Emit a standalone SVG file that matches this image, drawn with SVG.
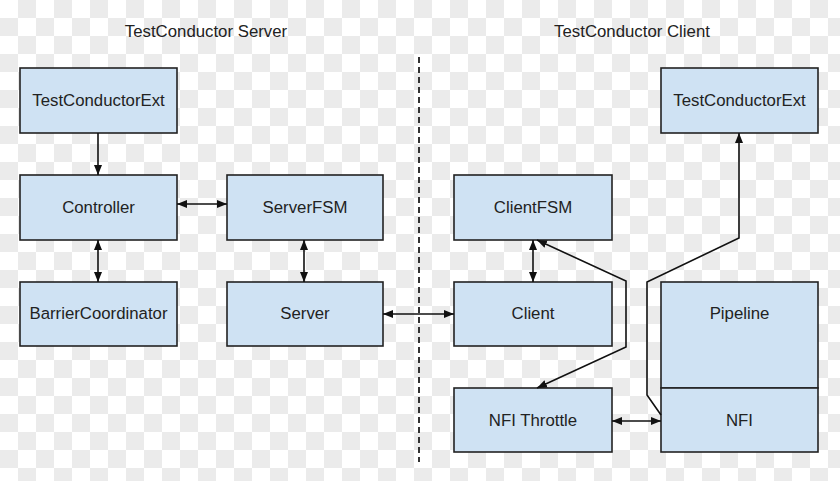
<svg xmlns="http://www.w3.org/2000/svg" width="840" height="481" viewBox="0 0 840 481">
<defs>
<pattern id="checker" x="0" y="0" width="36" height="36" patternUnits="userSpaceOnUse">
<rect width="36" height="36" fill="#ffffff"/>
<rect x="18" y="0" width="18" height="18" fill="#ebebeb"/>
<rect x="0" y="18" width="18" height="18" fill="#ebebeb"/>
</pattern>
<marker id="ah" viewBox="0 0 10 10" refX="10" refY="5" markerWidth="10" markerHeight="10" markerUnits="userSpaceOnUse" orient="auto-start-reverse">
<path d="M0,1 L10,5 L0,9 Z" fill="#111"/>
</marker>
<style>
.box{fill:#cfe2f3;stroke:#222;stroke-width:1.6}
.lbl{font-family:"Liberation Sans",Arial,sans-serif;font-size:16.8px;fill:#222;text-anchor:middle}
.title{font-family:"Liberation Sans",Arial,sans-serif;font-size:16.8px;fill:#222;text-anchor:middle}
.ln{fill:none;stroke:#111;stroke-width:1.6}
</style>
</defs>
<rect width="840" height="481" fill="url(#checker)"/>
<text class="title" x="206" y="37">TestConductor Server</text>
<text class="title" x="632" y="37">TestConductor Client</text>
<line x1="419" y1="57" x2="419" y2="462" stroke="#333" stroke-width="2" stroke-dasharray="6,4"/>

<g id="server-ext"><rect class="box" x="20" y="68" width="157" height="65"/><text class="lbl" x="98.5" y="106">TestConductorExt</text></g>
<g id="controller"><rect class="box" x="20" y="175" width="157" height="65"/><text class="lbl" x="98.5" y="213">Controller</text></g>
<g id="serverfsm"><rect class="box" x="227" y="175" width="156" height="65"/><text class="lbl" x="305" y="213">ServerFSM</text></g>
<g id="barrier"><rect class="box" x="20" y="282" width="157" height="64"/><text class="lbl" x="98.5" y="319">BarrierCoordinator</text></g>
<g id="server"><rect class="box" x="227" y="282" width="156" height="64"/><text class="lbl" x="305" y="319">Server</text></g>

<g id="client-ext"><rect class="box" x="661" y="68" width="157" height="65"/><text class="lbl" x="739.5" y="106">TestConductorExt</text></g>
<g id="clientfsm"><rect class="box" x="454" y="175" width="158" height="65"/><text class="lbl" x="533" y="213">ClientFSM</text></g>
<g id="client"><rect class="box" x="454" y="282" width="158" height="64"/><text class="lbl" x="533" y="319">Client</text></g>
<g id="nfithrottle"><rect class="box" x="454" y="388" width="158" height="64"/><text class="lbl" x="533" y="426">NFI Throttle</text></g>
<g id="pipeline"><rect class="box" x="661" y="282" width="157" height="106"/><text class="lbl" x="739.5" y="319">Pipeline</text></g>
<g id="nfi"><rect class="box" x="661" y="388" width="157" height="64"/><text class="lbl" x="739.5" y="426">NFI</text></g>

<g id="connectors">
<line class="ln" x1="98" y1="133" x2="98" y2="175" marker-end="url(#ah)"/>
<line class="ln" x1="177" y1="204" x2="227" y2="204" marker-start="url(#ah)" marker-end="url(#ah)"/>
<line class="ln" x1="98" y1="240" x2="98" y2="282" marker-start="url(#ah)" marker-end="url(#ah)"/>
<line class="ln" x1="304" y1="240" x2="304" y2="282" marker-start="url(#ah)" marker-end="url(#ah)"/>
<line class="ln" x1="383" y1="314" x2="454" y2="314" marker-start="url(#ah)" marker-end="url(#ah)"/>
<line class="ln" x1="533" y1="240" x2="533" y2="282" marker-start="url(#ah)" marker-end="url(#ah)"/>
<line class="ln" x1="612" y1="421" x2="661" y2="421" marker-start="url(#ah)" marker-end="url(#ah)"/>
<polyline class="ln" points="537,240 626,281 626,347 537,388" marker-start="url(#ah)" marker-end="url(#ah)"/>
<polyline class="ln" points="661,415 647,395 647,282 739,238 739,133" marker-end="url(#ah)"/>
</g>
</svg>
